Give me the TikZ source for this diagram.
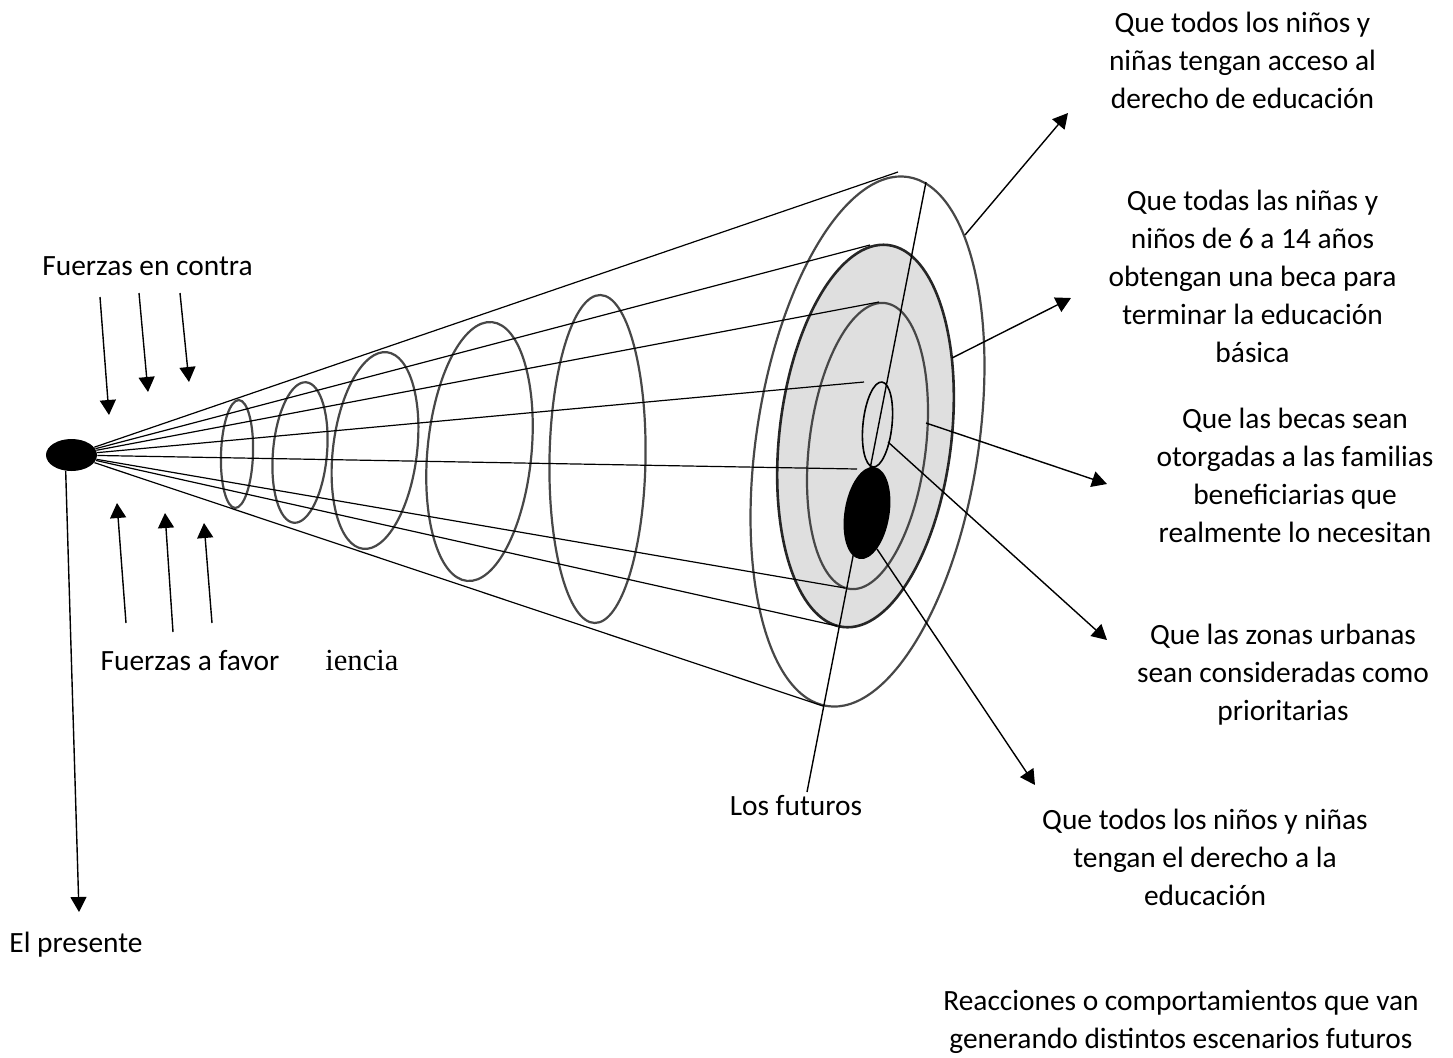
\documentclass[tikz,border=0pt]{standalone}
\usepackage{fontspec}
\setmainfont{Carlito}
\newfontfamily\serifA{Liberation Serif}
\usetikzlibrary{shapes.geometric,arrows.meta}
\begin{document}
\begin{tikzpicture}[x=0.5pt,y=-0.5pt,
  lbl/.style={inner sep=0pt, anchor=base, font=\fontsize{14.7}{19}\selectfont},
  cone/.style={line width=0.6pt},
  ring/.style={ellipse, draw=black!72, line width=1.1pt, inner sep=0pt, outer sep=0pt},
  arr/.style={line width=0.7pt, -{Triangle[length=7.5pt,width=8pt]}},
  graybg/.style={fill={rgb,255:red,223;green,223;blue,223}}
]
\useasboundingbox (0,0) rectangle (1453,1057);

% cone ellipses
\node[ring, minimum width=16pt, minimum height=54pt, rotate=-2] (e1) at (237,454) {};
\node[ring, minimum width=27pt, minimum height=70.5pt, rotate=-5] (e2) at (300,452.5) {};
\node[ring, minimum width=42pt, minimum height=99pt, rotate=-7] (e3) at (375,450.5) {};
\node[ring, minimum width=52pt, minimum height=130pt, rotate=-5.5] (e4) at (479.5,451.5) {};
\node[ring, minimum width=48pt, minimum height=164pt, rotate=-1] (e5) at (597.5,459) {};

% target
\node[ring, minimum width=111pt, minimum height=267.6pt, rotate=-8.7] (outer) at (867.5,441.5) {};
\node[ring, graybg, draw=black!85, line width=1.3pt, minimum width=86pt, minimum height=192.3pt, rotate=-6.7] (gray) at (865.5,436) {};
\node[ring, minimum width=58.3pt, minimum height=144pt, rotate=-7] (inner) at (867.5,446) {};
\node[ring, draw=black, line width=0.8pt, minimum width=14.5pt, minimum height=42.7pt, rotate=-6] (small) at (877.5,424.5) {};

% origin
\node[ellipse, fill=black, inner sep=0pt, minimum width=25.5pt, minimum height=16pt] (present) at (71.5,455) {};

% coordinates
\coordinate (c1) at (898,172);
\coordinate (c2) at (870,245);
\coordinate (c3) at (879,302);
\coordinate (c4) at (864,382);
\coordinate (c5) at (857,469);
\coordinate (c6) at (845,588);
\coordinate (c7) at (837,626);
\coordinate (c8) at (823,706);

\foreach \c in {c1,c2,c3,c4,c5,c6,c7,c8}
  \draw[cone] (present) -- (\c);

% futuros line
\coordinate (ftop) at (926,182);
\coordinate (fbot) at (807,792);
\draw[line width=0.7pt] (ftop) -- (fbot);

\node[ellipse, fill=black, inner sep=0pt, minimum width=22.5pt, minimum height=46.6pt, rotate=-9.3] (black) at (867,513) {};

% forces
\coordinate (a1s) at (100,297); \coordinate (a1e) at (109,415);
\coordinate (a2s) at (139,293); \coordinate (a2e) at (148,392);
\coordinate (a3s) at (180,293); \coordinate (a3e) at (189,382);
\coordinate (b1s) at (126,623); \coordinate (b1e) at (117,503);
\coordinate (b2s) at (173,632); \coordinate (b2e) at (165,513);
\coordinate (b3s) at (212,623); \coordinate (b3e) at (204,523);
\foreach \s/\e in {a1s/a1e,a2s/a2e,a3s/a3e,b1s/b1e,b2s/b2e,b3s/b3e}
  \draw[arr] (\s) -- (\e);

% presente
\coordinate (pend) at (79,912);
\draw[arr] (present.250) -- (pend);

% right arrows
\coordinate (r1s) at (965,235); \coordinate (r1e) at (1068,113);
\coordinate (r2s) at (952,358); \coordinate (r2e) at (1071,298);
\coordinate (r3s) at (926,423); \coordinate (r3e) at (1107,484);
\coordinate (r4s) at (888,442); \coordinate (r4e) at (1107,640);
\coordinate (r5s) at (877,549); \coordinate (r5e) at (1035,785);
\foreach \s/\e in {r1s/r1e,r2s/r2e,r3s/r3e,r4s/r4e,r5s/r5e}
  \draw[arr] (\s) -- (\e);

% labels
\node[lbl] (fc) at (147.5,275) {Fuerzas en contra};
\node[lbl] (ff) at (190,670) {Fuerzas a favor};
\node[lbl, anchor=base west, font=\serifA\fontsize{15.3}{19}\selectfont] (ien) at (325,670) {iencia};
\node[lbl] (fut) at (796,815) {Los futuros};
\node[lbl] (pres) at (76,952) {El presente};
\node[lbl] (t1) at (1242.5,32) {\begin{tabular}[t]{@{}c@{}}Que todos los niños y\\niñas tengan acceso al\\derecho de educación\end{tabular}};
\node[lbl] (t2) at (1252.5,210) {\begin{tabular}[t]{@{}c@{}}Que todas las niñas y\\niños de 6 a 14 años\\obtengan una beca para\\terminar la educación\\básica\end{tabular}};
\node[lbl] (t3) at (1295,428) {\begin{tabular}[t]{@{}c@{}}Que las becas sean\\otorgadas a las familias\\beneficiarias que\\realmente lo necesitan\end{tabular}};
\node[lbl] (t4) at (1283,644) {\begin{tabular}[t]{@{}c@{}}Que las zonas urbanas\\sean consideradas como\\prioritarias\end{tabular}};
\node[lbl] (t5) at (1205,829) {\begin{tabular}[t]{@{}c@{}}Que todos los niños y niñas\\tengan el derecho a la\\educación\end{tabular}};
\node[lbl] (t6) at (1181,1010) {\begin{tabular}[t]{@{}c@{}}Reacciones o comportamientos que van\\generando distintos escenarios futuros\end{tabular}};
\end{tikzpicture}
\end{document}
